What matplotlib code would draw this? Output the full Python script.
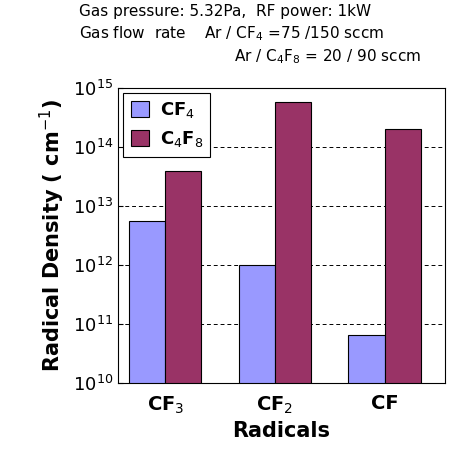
import matplotlib
matplotlib.use("Agg")
import matplotlib.pyplot as plt
import numpy as np

categories = ["CF$_3$", "CF$_2$", "CF"]
cf4 = [5.6e12, 1.0e12, 5.4e10]
c4f8 = [3.9e13, 5.8e14, 2.0e14]

fig = plt.figure(figsize=(4.63, 4.55), dpi=100)
ax = fig.add_axes([0.255, 0.158, 0.706, 0.649])
x = np.arange(len(categories))
w = 0.33
ax.bar(x - w/2, cf4, w, bottom=1e10, color="#9999FF", edgecolor="black", lw=0.8, label="CF$_4$", zorder=3)
ax.bar(x + w/2, c4f8, w, bottom=1e10, color="#993366", edgecolor="black", lw=0.8, label="C$_4$F$_8$", zorder=3)
ax.set_yscale("log")
ax.set_ylim(1e10, 1e15)
ax.set_xlim(-0.43, 2.55)
ax.yaxis.grid(True, which="major", ls=(0, (4, 3)), color="black", lw=0.7, zorder=0)
ax.set_xticks(x)
ax.set_xticklabels(categories, fontsize=14, fontweight="bold")
ax.tick_params(axis="x", length=0, pad=8)
ax.tick_params(axis="y", labelsize=13, which="both", direction="in")
ax.minorticks_off()
ax.set_xlabel("Radicals", fontsize=15, fontweight="bold")
ax.set_ylabel("Radical Density ( cm$^{-1}$)", fontsize=15, fontweight="bold")
leg = ax.legend(loc="upper left", frameon=True, fancybox=False, edgecolor="black", framealpha=1,
                prop={"weight": "bold", "size": 13}, borderaxespad=0.3,
                handlelength=1.0, handleheight=1.0, handletextpad=0.6)
leg.get_frame().set_linewidth(0.8)
fig.text(0.17, 0.965, "Gas pressure: 5.32Pa,  RF power: 1kW", fontsize=11)
fig.text(0.17, 0.915, "Gas flow  rate    Ar / CF$_4$ =75 /150 sccm", fontsize=11)
fig.text(0.505, 0.865, "Ar / C$_4$F$_8$ = 20 / 90 sccm", fontsize=11)
fig.savefig("out.png", dpi=100)
